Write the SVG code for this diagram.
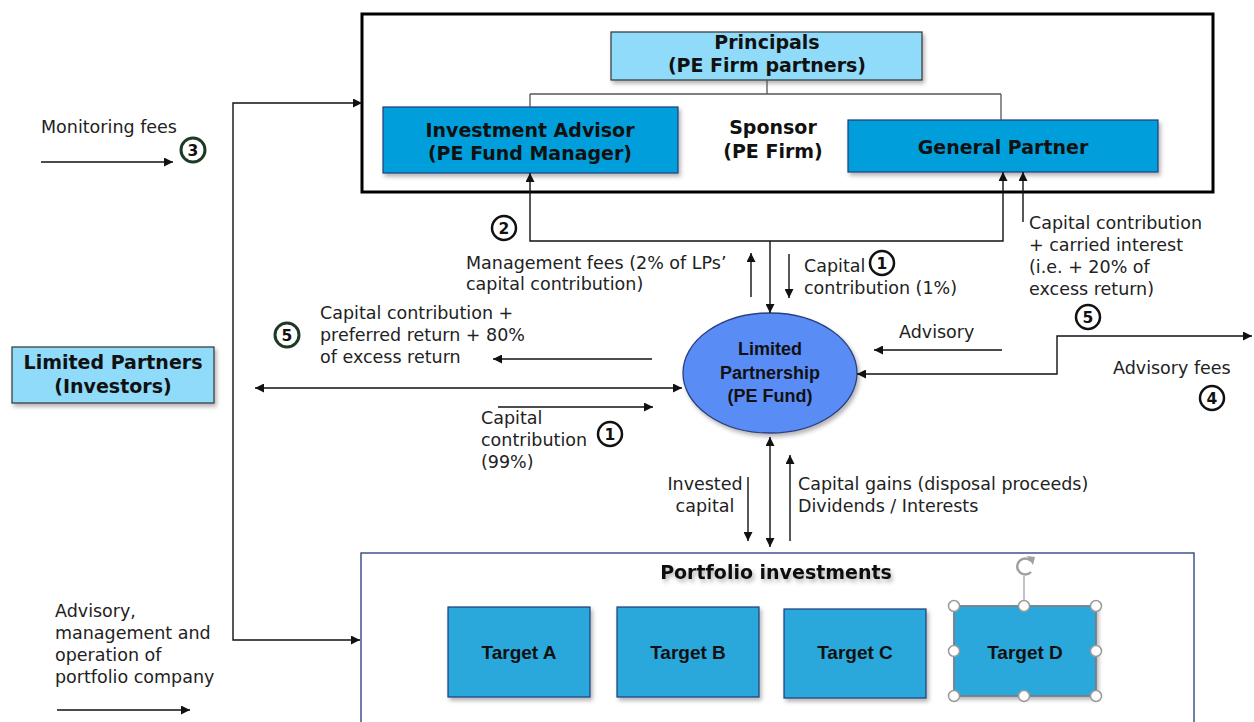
<svg xmlns="http://www.w3.org/2000/svg" width="1254" height="722" viewBox="0 0 1254 722">
<style>
.lbl{font-family:"DejaVu Sans",Verdana,sans-serif;font-size:17.5px;fill:#222}
.hb{font-family:"DejaVu Sans",Verdana,sans-serif;font-size:19px;font-weight:bold;fill:#111}
.ab{font-family:"Liberation Sans",Arial,sans-serif;font-size:18px;font-weight:bold;fill:#111}
.tt{font-family:"Liberation Sans",Arial,sans-serif;font-size:19px;font-weight:bold;fill:#111;text-anchor:middle}
.ln{fill:none;stroke:#111;stroke-width:1.4}
.gl{fill:none;stroke:#555;stroke-width:1.3}
.num{fill:#fff;stroke:#111;stroke-width:2.5}
.numg{fill:#fff;stroke:#1d3a24;stroke-width:3}
.nt{font-family:"DejaVu Sans",Verdana,sans-serif;font-size:15.5px;font-weight:bold;fill:#111;text-anchor:middle}
.tgt{fill:#29a8db;stroke:#1f3b7a;stroke-width:1.2}
.hd{fill:#fff;stroke:#9a9a9a;stroke-width:1.5}
</style>
<defs>
<marker id="ah" viewBox="0 0 10 10" refX="10" refY="5" markerWidth="11" markerHeight="9" markerUnits="userSpaceOnUse" orient="auto-start-reverse"><path d="M0,0 L10,5 L0,10 z" fill="#111"/></marker>
<filter id="sh" x="-10%" y="-10%" width="130%" height="140%"><feDropShadow dx="2" dy="3" stdDeviation="2" flood-color="#000" flood-opacity="0.3"/></filter>
</defs>
<rect width="1254" height="722" fill="#fff"/>

<g id="sponsor">
<rect x="362" y="14" width="851" height="178" fill="#fff" stroke="#000" stroke-width="3"/>
<text class="hb" x="773" y="134" text-anchor="middle">Sponsor</text>
<text class="hb" x="773" y="158" text-anchor="middle">(PE Firm)</text>
</g>
<g id="principals">
<rect x="611" y="32" width="311" height="48" fill="#8fdbf9" stroke="#333" stroke-width="1.2" filter="url(#sh)"/>
<text class="hb" x="767" y="49" text-anchor="middle">Principals</text>
<text class="hb" x="767" y="72" text-anchor="middle">(PE Firm partners)</text>
</g>
<g id="investment-advisor">
<rect x="383" y="107" width="295" height="66" fill="#069fdc" stroke="#1f3b7a" stroke-width="1.2" filter="url(#sh)"/>
<text class="hb" x="530" y="137" text-anchor="middle">Investment Advisor</text>
<text class="hb" x="530" y="160" text-anchor="middle">(PE Fund Manager)</text>
</g>
<g id="general-partner">
<rect x="848" y="120" width="310" height="52" fill="#069fdc" stroke="#1f3b7a" stroke-width="1.2" filter="url(#sh)"/>
<text class="hb" x="1003" y="154" text-anchor="middle">General Partner</text>
</g>
<g id="limited-partners">
<rect x="12" y="347" width="202" height="56" fill="#8fdbf9" stroke="#333" stroke-width="1.2" filter="url(#sh)"/>
<text class="hb" x="113" y="369" text-anchor="middle">Limited Partners</text>
<text class="hb" x="113" y="393" text-anchor="middle">(Investors)</text>
</g>
<g id="limited-partnership">
<ellipse cx="770" cy="373" rx="87" ry="60" fill="#5a8cf6" stroke="#2b3f80" stroke-width="1.3" filter="url(#sh)"/>
<text class="ab" x="770" y="355" text-anchor="middle">Limited</text>
<text class="ab" x="770" y="379" text-anchor="middle">Partnership</text>
<text class="ab" x="770" y="402" text-anchor="middle">(PE Fund)</text>
</g>
<g id="portfolio">
<rect x="361" y="553" width="833" height="175" fill="#fff" stroke="#1f3b7a" stroke-width="1.3"/>
<text class="hb" x="776" y="579" text-anchor="middle" filter="url(#sh)">Portfolio investments</text>
</g>
<g id="target-a">
<rect class="tgt" x="448" y="607" width="142" height="90" filter="url(#sh)"/>
<text class="tt" x="519" y="659">Target A</text>
</g>
<g id="target-b">
<rect class="tgt" x="617" y="607" width="142" height="90" filter="url(#sh)"/>
<text class="tt" x="688" y="659">Target B</text>
</g>
<g id="target-c">
<rect class="tgt" x="784" y="609" width="142" height="89" filter="url(#sh)"/>
<text class="tt" x="855" y="659">Target C</text>
</g>
<g id="target-d">
<rect class="tgt" x="954" y="606" width="142" height="90" filter="url(#sh)"/>
<rect x="954" y="606" width="142" height="90" fill="none" stroke="#8a8a8a" stroke-width="1.5"/>
<text class="tt" x="1025" y="659">Target D</text>
<line x1="1024" y1="576" x2="1024" y2="606" stroke="#9a9a9a" stroke-width="1.2"/>
<path d="M1031,561 A8,8 0 1 0 1031,572" fill="none" stroke="#a0a0a0" stroke-width="2.5"/>
<path d="M1027,556 L1035,557 L1033,565 z" fill="#a0a0a0"/>
<circle class="hd" cx="954" cy="606" r="5.5"/><circle class="hd" cx="1024" cy="606" r="5.5"/><circle class="hd" cx="1096" cy="606" r="5.5"/>
<circle class="hd" cx="954" cy="651" r="5.5"/><circle class="hd" cx="1096" cy="651" r="5.5"/>
<circle class="hd" cx="954" cy="696" r="5.5"/><circle class="hd" cx="1024" cy="696" r="5.5"/><circle class="hd" cx="1096" cy="696" r="5.5"/>
</g>

<g id="connectors">
<path class="gl" d="M767,80 V94 M530,94 H1001 M530,94 V107 M1001,94 V120"/>
<path class="ln" d="M41,162 H173" marker-end="url(#ah)"/>
<path class="ln" d="M362,103 H233 V640 H360" marker-start="url(#ah)" marker-end="url(#ah)"/>
<path class="ln" d="M255,388 H682" marker-start="url(#ah)" marker-end="url(#ah)"/>
<path class="ln" d="M652,359 H493" marker-end="url(#ah)"/>
<path class="ln" d="M498,407 H653" marker-end="url(#ah)"/>
<path class="ln" d="M57,710 H190" marker-end="url(#ah)"/>
<path class="ln" d="M530,173 V241 H1003 V172" marker-start="url(#ah)" marker-end="url(#ah)"/>
<path class="ln" d="M770,241 V313" marker-end="url(#ah)"/>
<path class="ln" d="M751,297 V253" marker-end="url(#ah)"/>
<path class="ln" d="M789,254 V298" marker-end="url(#ah)"/>
<path class="ln" d="M1023,222 V172" marker-end="url(#ah)"/>
<path class="ln" d="M1002,350 H874" marker-end="url(#ah)"/>
<path class="ln" d="M857,374 H1057 V336 H1252" marker-start="url(#ah)" marker-end="url(#ah)"/>
<path class="ln" d="M748,477 V541" marker-end="url(#ah)"/>
<path class="ln" d="M770,437 V547" marker-start="url(#ah)" marker-end="url(#ah)"/>
<path class="ln" d="M790,541 V455" marker-end="url(#ah)"/>
</g>

<g id="labels">
<text class="lbl" x="41" y="133">Monitoring fees</text>
<text class="lbl" x="466" y="269">Management fees (2% of LPs’</text>
<text class="lbl" x="466" y="290">capital contribution)</text>
<text class="lbl" x="804" y="272">Capital</text>
<text class="lbl" x="804" y="294">contribution (1%)</text>
<text class="lbl" x="1029" y="229">Capital contribution</text>
<text class="lbl" x="1029" y="251">+ carried interest</text>
<text class="lbl" x="1029" y="273">(i.e. + 20% of</text>
<text class="lbl" x="1029" y="295">excess return)</text>
<text class="lbl" x="320" y="319">Capital contribution +</text>
<text class="lbl" x="320" y="341">preferred return + 80%</text>
<text class="lbl" x="320" y="363">of excess return</text>
<text class="lbl" x="899" y="338">Advisory</text>
<text class="lbl" x="1113" y="374">Advisory fees</text>
<text class="lbl" x="481" y="424">Capital</text>
<text class="lbl" x="481" y="446">contribution</text>
<text class="lbl" x="481" y="468">(99%)</text>
<text class="lbl" x="705" y="490" text-anchor="middle">Invested</text>
<text class="lbl" x="705" y="512" text-anchor="middle">capital</text>
<text class="lbl" x="798" y="490">Capital gains (disposal proceeds)</text>
<text class="lbl" x="798" y="512">Dividends / Interests</text>
<text class="lbl" x="55" y="617">Advisory,</text>
<text class="lbl" x="55" y="639">management and</text>
<text class="lbl" x="55" y="661">operation of</text>
<text class="lbl" x="55" y="683">portfolio company</text>
</g>

<g id="step-markers">
<circle class="numg" cx="193" cy="150" r="12"/><text class="nt" x="193" y="156">3</text>
<circle class="num" cx="504" cy="228" r="12"/><text class="nt" x="504" y="234">2</text>
<circle class="num" cx="882" cy="263" r="12"/><text class="nt" x="882" y="269">1</text>
<circle class="num" cx="1088" cy="317" r="12"/><text class="nt" x="1088" y="323">5</text>
<circle class="numg" cx="287" cy="335" r="12"/><text class="nt" x="287" y="341">5</text>
<circle class="num" cx="610" cy="434" r="12"/><text class="nt" x="610" y="440">1</text>
<circle class="num" cx="1212" cy="398" r="12"/><text class="nt" x="1212" y="404">4</text>
</g>
</svg>
